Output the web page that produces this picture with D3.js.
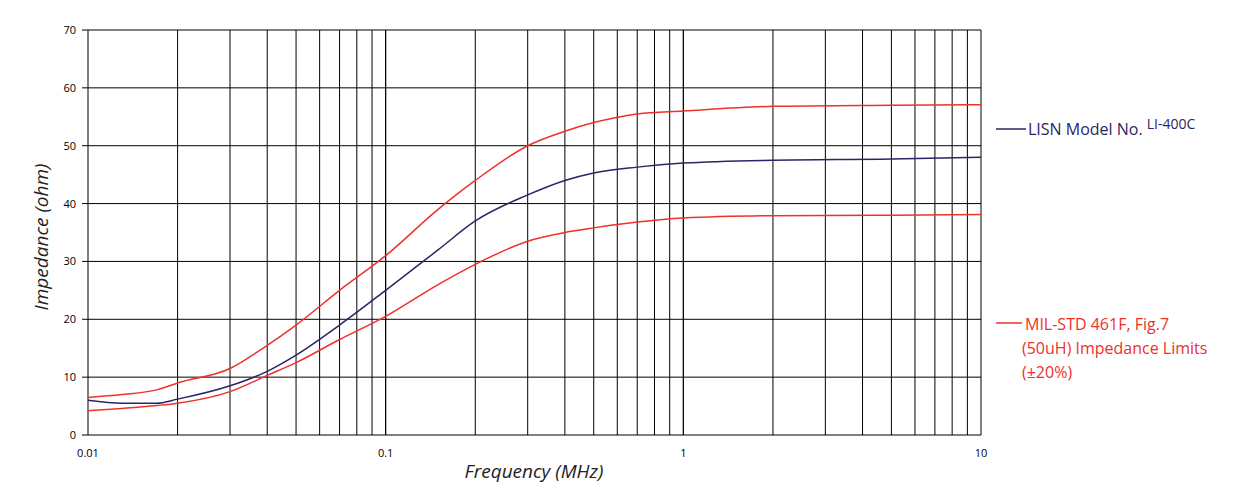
<!DOCTYPE html>
<html><head><meta charset="utf-8">
<script src="https://cdn.jsdelivr.net/npm/d3@7"></script>
<style>body{margin:0;background:#fff}text{font-family:"Open Sans",sans-serif}</style>
</head><body><svg id="c" width="1253" height="492"></svg>
<script>
// values
const freq = [0.01, 0.013, 0.017, 0.02, 0.03, 0.04, 0.05, 0.07, 0.1, 0.15, 0.2, 0.3, 0.4, 0.5, 0.7, 1, 2, 5, 10];
const lisn = [6, 5.5, 5.5, 6.2, 8.5, 11, 13.8, 19, 25, 32, 37, 41.5, 44, 45.3, 46.3, 47, 47.5, 47.7, 48];
const upper = [6.5, 7, 7.8, 9, 11.5, 15.5, 19, 25, 31, 39, 44, 50, 52.5, 54, 55.5, 56, 56.8, 57, 57.1];
const lower = [4.2, 4.6, 5.1, 5.5, 7.5, 10.3, 12.5, 16.5, 20.5, 26, 29.5, 33.5, 35, 35.8, 36.8, 37.5, 37.9, 38, 38.1];
const yTicks = [0, 10, 20, 30, 40, 50, 60, 70];
const xTicks = [0.01, 0.1, 1, 10];

const svg = d3.select('#c');
const x = d3.scaleLog().domain([0.01, 10]).range([88, 981]);
const y = d3.scaleLinear().domain([0, 70]).range([435, 30]);

// grid
const minor = [];
[0.01, 0.1, 1].forEach(d => { for (let i = 1; i <= 10; i++) minor.push(d * i); });
svg.selectAll('.vg').data(minor).join('line')
  .attr('x1', d => x(d)).attr('x2', d => x(d)).attr('y1', 30).attr('y2', 435)
  .attr('stroke', '#000').attr('stroke-width', 1);
svg.selectAll('.hg').data(yTicks).join('line')
  .attr('x1', 88).attr('x2', 981).attr('y1', d => y(d)).attr('y2', d => y(d))
  .attr('stroke', '#000').attr('stroke-width', 1);

// axes labels
svg.selectAll('.yt').data(yTicks).join('text')
  .attr('x', 76).attr('y', d => y(d) + 4).attr('text-anchor', 'end')
  .attr('font-size', 11).text(d => d);
svg.selectAll('.yk').data(yTicks).join('line')
  .attr('x1', 82).attr('x2', 88).attr('y1', d => y(d)).attr('y2', d => y(d)).attr('stroke', '#000');
svg.selectAll('.xt').data(xTicks).join('text')
  .attr('x', d => x(d)).attr('y', 457).attr('text-anchor', 'middle')
  .attr('font-size', 11).text(d => d);
svg.append('text').attr('x', 534).attr('y', 478).attr('text-anchor', 'middle')
  .attr('font-size', 19).attr('font-style', 'italic').attr('fill', '#222').text('Frequency (MHz)');
svg.append('text').attr('transform', 'translate(48,237) rotate(-90)').attr('text-anchor', 'middle')
  .attr('font-size', 19).attr('font-style', 'italic').attr('fill', '#222').text('Impedance (ohm)');

// curves
const line = d3.line().x((d, i) => x(freq[i])).y(d => y(d)).curve(d3.curveMonotoneX);
const series = [[upper, '#f0302a'], [lower, '#f0302a'], [lisn, '#2b2565']];
series.forEach(([vals, col]) => {
  svg.append('path').attr('d', line(vals)).attr('fill', 'none').attr('stroke', col).attr('stroke-width', 1.5);
});

// legend
svg.append('line').attr('x1', 996).attr('x2', 1026).attr('y1', 129).attr('y2', 129).attr('stroke', '#2b2565').attr('stroke-width', 1.5);
const t1 = svg.append('text').attr('x', 1028).attr('y', 135).attr('font-size', 16).attr('fill', '#2b2565');
t1.append('tspan').text('LISN Model No. ');
t1.append('tspan').attr('dy', -6).attr('font-size', 14).text('LI-400C');
svg.append('line').attr('x1', 996).attr('x2', 1022).attr('y1', 323).attr('y2', 323).attr('stroke', '#f0302a').attr('stroke-width', 1.5);
['MIL-STD 461F, Fig.7', '(50uH) Impedance Limits', '(±20%)'].forEach((s, i) => {
  svg.append('text').attr('x', i ? 1022 : 1025).attr('y', 330 + i * 24).attr('font-size', 16).attr('fill', '#f0302a').text(s);
});
</script></body></html>
